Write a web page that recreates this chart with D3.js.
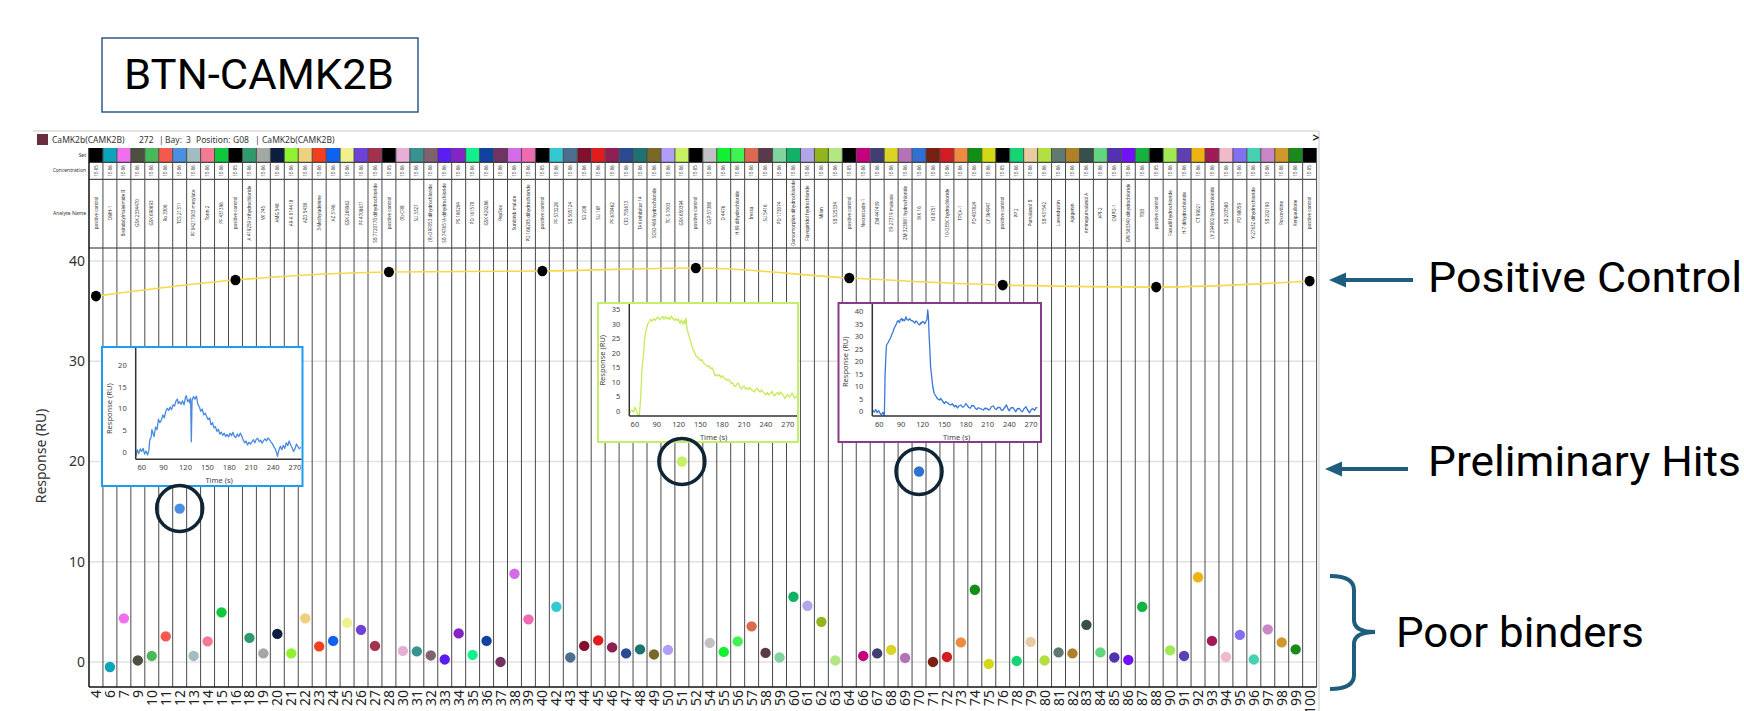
<!DOCTYPE html>
<html>
<head>
<meta charset="utf-8">
<script src="https://cdn.jsdelivr.net/npm/d3@7"></script>
<style>
  html, body { margin: 0; padding: 0; background: #fff; }
  svg { display: block; }
</style>
</head>
<body>
<div id="chart"></div>
<script>
// sample columns (well numbers) along the x axis
const columns = [4, 6, 7, 9, 10, 11, 12, 13, 14, 15,
  16, 18, 19, 20, 21, 22, 23, 24, 25, 26,
  27, 28, 30, 31, 32, 33, 34, 35, 36, 37,
  38, 39, 40, 42, 43, 44, 45, 46, 47, 48,
  49, 50, 51, 52, 54, 55, 56, 57, 58, 59,
  60, 61, 62, 63, 64, 66, 67, 68, 69, 70,
  71, 72, 73, 74, 75, 76, 78, 79, 80, 81,
  82, 83, 84, 85, 86, 87, 88, 90, 91, 92,
  93, 94, 95, 96, 97, 98, 99, 100];

// response (RU) per column
const responses = [36.5, -0.5, 4.35, 0.15, 0.6, 2.55, 15.3, 0.6, 2.05, 4.95,
  38.1, 2.4, 0.85, 2.8, 0.85, 4.35, 1.55, 2.1, 3.9, 3.2,
  1.6, 38.9, 1.1, 1.05, 0.65, 0.25, 2.85, 0.7, 2.1, 0.0,
  8.8, 4.25, 39.0, 5.5, 0.45, 1.6, 2.15, 1.45, 0.85, 1.25,
  0.75, 1.2, 20.0, 39.3, 1.9, 1.0, 2.05, 3.55, 0.9, 0.45,
  6.5, 5.6, 4.0, 0.15, 38.3, 0.6, 0.85, 1.2, 0.4, 19.0,
  0.0, 0.5, 1.95, 7.2, -0.2, 37.6, 0.1, 2.0, 0.15, 0.95,
  0.85, 3.7, 0.95, 0.45, 0.2, 5.5, 37.4, 1.15, 0.6, 8.45,
  2.1, 0.5, 2.7, 0.25, 3.25, 1.95, 1.25, 38.0];

const setColors = ['#000000', '#0aa5b8', '#ef6ff0', '#4d5040', '#48b858', '#f5584d', '#4a8fe2', '#a2bcc2', '#f27a92', '#10c83c',
  '#000000', '#2f9a6e', '#a3a8a2', '#0c1e3e', '#8ef22e', '#efd07e', '#f2401e', '#0f62f0', '#eff08e', '#6e42d6',
  '#a2324e', '#000000', '#e6b0d6', '#389292', '#80626f', '#5c1cf5', '#8424c4', '#12f08e', '#1242a0', '#703464',
  '#d46ce8', '#f06ab2', '#000000', '#34c8d2', '#4e6e90', '#80102e', '#e01c1c', '#8e1f52', '#2a4a92', '#1e7272',
  '#7a6828', '#b09ef8', '#c8f064', '#000000', '#c2c2c2', '#12f030', '#42f252', '#dc6a50', '#5a3a4a', '#80d4a0',
  '#12b266', '#b0a6e8', '#92b41e', '#b2e882', '#000000', '#c4007e', '#403e72', '#dad424', '#b472b8', '#2f70d2',
  '#782012', '#d21e22', '#f08a40', '#128e14', '#d2d814', '#000000', '#14d474', '#eacaa0', '#b2e040', '#607a72',
  '#b08028', '#38504a', '#62d482', '#5232b0', '#7210f8', '#14b23e', '#000000', '#a2e852', '#5e40b0', '#f0b210',
  '#a01a56', '#f0bac8', '#8270f0', '#44d2b0', '#c888c8', '#d09828', '#1a8a1a', '#000000'];

const analyteNames = ['positive control', 'DMH-1', 'Bisindolylmaleimide II', 'GSK 2334470', 'GSK 690693', 'Ro 3306', 'TCS 21311', 'PF 04217903 mesylate', 'Torin 2', 'PF 431396',
  'positive control', 'A 419259 trihydrochloride', 'VX 745', 'AMG 548', 'AR-A 014418', 'AZD 5438', '3-Methyladenine', 'AZ 3146', 'GSK 269962', 'PF 4708671',
  'SB 772077B dihydrochloride', 'positive control', '(R)-CR8', 'SU 3327', '(R)-DRF053 dihydrochloride', 'SB 747651A dihydrochloride', 'PS 180204', 'PD 161570', 'GSK 429286', 'RepSox',
  'Sunitinib malate', 'PD 166285 dihydrochloride', 'positive control', 'PF 573228', 'SB 505124', 'SD 208', 'SU 16f', 'PF 670462', 'CID 755673', 'TAK inhibitor 14',
  'SCIO 469 hydrochloride', 'TC-S 7003', 'GSK 650394', 'positive control', 'CGP 57380', 'D 4476', 'H 89 dihydrochloride', 'Iressa', 'SU 5416', 'PD 173074',
  'Dorsomorphin dihydrochloride', 'Flavopiridol hydrochloride', 'Milan', 'SB 525334', 'positive control', 'Necrostatin-1', 'ZM 447439', 'ER 27319 maleate', 'ZM 323881 hydrochloride', 'IKK 16',
  'KI 8751', '10-DEBC hydrochloride', 'TPCA-1', 'PD 407824', 'LY 364947', 'positive control', 'PP 2', 'Purvalanol B', 'SB 431542', 'Lavendustin',
  'Apigenin', 'Aminopurvalanol A', 'API-2', 'CMPD-1', 'GW 583340 dihydrochloride', 'TBB', 'positive control', 'Fasudil hydrochloride', 'H-7 dihydrochloride', 'CT 99021',
  'LY 294002 hydrochloride', 'SB 203580', 'PD 98059', 'Y-27632 dihydrochloride', 'SB 202190', 'Roscovitine', 'Kenpaullone', 'positive control'];

const hitColumns = [12, 51, 70];
const yTicks = [0, 10, 20, 30, 40];
const timeTicks = [60, 90, 120, 150, 180, 210, 240, 270];

// sensorgrams of the three preliminary hits: [time (s), response (RU)]
const traceWell12 = [[52, -1.0], [54, 0.6], [56, -0.3], [58, 0.8], [60, 0.2], [62, 0.9], [64, -0.4], [66, 0.3], [68, -0.6], [70, 0.5],
  [71, 2.8], [73, 3.5], [74, 5.2], [76, 4.1], [77, 3.6], [79, 5.8], [81, 5.2], [83, 7.6], [85, 6.8], [87, 7.4],
  [89, 8.6], [91, 7.9], [93, 9.4], [95, 10.1], [97, 9.6], [99, 10.4], [101, 9.8], [103, 10.9], [105, 10.6], [107, 11.8],
  [109, 12.2], [110, 11.2], [112, 11.6], [114, 11.0], [116, 11.8], [118, 10.9], [120, 12.6], [121, 13.0], [123, 11.6], [125, 12.1],
  [126, 11.3], [127, 12.4], [128, 2.4], [129, 11.9], [131, 12.8], [133, 12.2], [135, 12.9], [137, 11.0], [139, 10.4], [141, 9.4],
  [143, 9.9], [145, 8.6], [147, 9.0], [149, 8.2], [151, 7.5], [153, 7.9], [155, 6.3], [157, 6.8], [159, 5.6], [161, 5.9],
  [163, 4.8], [165, 5.3], [167, 4.2], [169, 4.6], [171, 3.9], [173, 4.4], [175, 3.6], [177, 4.1], [179, 3.5], [181, 4.4],
  [183, 3.8], [185, 4.6], [187, 3.7], [189, 3.4], [191, 4.2], [193, 3.6], [195, 4.4], [197, 3.8], [199, 2.8], [201, 2.2],
  [203, 2.6], [205, 1.7], [207, 2.3], [209, 1.9], [211, 2.4], [213, 2.9], [215, 2.2], [217, 3.0], [219, 3.2], [221, 2.4],
  [223, 2.8], [225, 2.1], [227, 2.7], [229, 3.1], [231, 2.6], [233, 3.3], [235, 2.9], [237, 2.4], [239, 2.0], [241, 1.3],
  [243, 0.8], [245, -0.2], [246, -0.9], [248, 0.5], [250, 1.4], [252, 0.6], [254, 1.6], [256, 0.9], [258, 2.2], [260, 1.5],
  [262, 2.6], [264, 1.7], [266, 1.1], [268, 0.2], [270, 0.8], [272, 1.9], [274, 1.3], [276, 0.8], [278, 1.2]];

const traceWell51 = [[52, -0.8], [54, -0.2], [56, 0.3], [58, -0.4], [60, 1.3], [62, 0.2], [64, -1.2], [66, -1.6], [67, 1.5], [68, 5.0],
  [69, 10.5], [70, 15.5], [72, 19.5], [73, 24.0], [74, 26.0], [76, 28.5], [78, 30.2], [80, 30.8], [82, 31.6], [84, 30.9],
  [86, 31.8], [88, 31.2], [90, 32.0], [92, 32.3], [94, 31.4], [96, 31.9], [98, 32.6], [100, 31.6], [102, 32.5], [104, 31.7],
  [106, 32.2], [108, 31.5], [110, 32.7], [112, 31.8], [114, 31.2], [116, 31.9], [118, 31.1], [120, 31.7], [122, 30.2], [124, 31.4],
  [126, 29.9], [128, 31.2], [129, 30.0], [130, 32.0], [131, 29.5], [132, 27.9], [134, 26.0], [136, 24.5], [138, 22.6], [140, 21.0],
  [142, 20.2], [144, 18.9], [146, 18.6], [148, 18.0], [150, 17.4], [152, 17.7], [154, 16.6], [156, 16.2], [158, 15.8], [160, 15.2],
  [162, 15.6], [164, 14.6], [166, 14.9], [168, 13.8], [170, 12.2], [172, 12.6], [174, 12.0], [176, 12.6], [178, 11.6], [180, 12.2],
  [182, 11.4], [184, 11.2], [186, 10.6], [188, 10.9], [190, 10.5], [192, 9.5], [194, 9.8], [196, 8.7], [198, 8.4], [200, 9.3],
  [202, 9.6], [204, 8.4], [206, 7.6], [208, 8.3], [210, 8.6], [212, 7.5], [214, 8.0], [216, 7.4], [218, 8.1], [220, 7.3],
  [222, 7.0], [224, 6.6], [226, 7.4], [228, 7.9], [230, 7.0], [232, 6.5], [234, 7.3], [236, 6.6], [238, 6.0], [240, 5.6],
  [242, 6.4], [244, 5.5], [246, 6.1], [248, 6.8], [250, 5.8], [252, 5.2], [254, 6.0], [256, 6.4], [258, 5.6], [260, 6.6],
  [262, 5.9], [264, 5.4], [266, 4.3], [268, 5.1], [270, 5.7], [272, 4.8], [274, 5.4], [276, 6.2], [278, 5.0], [280, 4.4], [282, 5.2]];

const traceWell70 = [[51, 0.7], [53, -0.2], [55, 0.9], [57, -0.4], [59, 0.5], [61, -0.6], [63, -1.3], [65, -0.2], [67, -1.7], [68, 14.5],
  [69, 22.0], [70, 26.7], [72, 27.6], [74, 28.7], [76, 29.8], [77, 30.7], [79, 32.0], [80, 33.0], [82, 34.2], [84, 35.3],
  [85, 36.2], [86, 36.4], [88, 35.7], [89, 36.8], [91, 37.3], [92, 36.3], [93, 36.9], [95, 36.4], [97, 38.0], [98, 37.0],
  [100, 36.6], [102, 37.2], [104, 36.5], [106, 36.4], [108, 35.9], [109, 35.5], [111, 36.3], [112, 36.0], [114, 35.1], [116, 34.7],
  [117, 35.6], [118, 35.3], [120, 36.1], [121, 36.0], [123, 35.2], [125, 36.4], [126, 37.0], [127, 40.7], [128, 38.0], [129, 30.0],
  [130, 24.7], [131, 18.0], [133, 12.7], [134, 10.0], [136, 7.3], [138, 6.4], [139, 5.9], [141, 5.1], [143, 4.7], [145, 5.3],
  [147, 4.5], [149, 3.7], [150, 3.3], [152, 4.0], [155, 3.5], [157, 2.9], [159, 2.7], [161, 3.2], [164, 2.0], [166, 2.6],
  [168, 1.5], [170, 2.3], [173, 2.7], [175, 1.8], [177, 2.0], [180, 3.3], [182, 2.4], [184, 1.7], [186, 1.4], [188, 2.5],
  [191, 2.3], [193, 1.3], [195, 0.9], [197, 1.6], [200, 1.3], [202, 0.9], [204, 0.7], [206, 1.4], [209, 1.3], [211, 0.8],
  [213, 0.9], [215, 2.0], [218, 2.3], [220, 1.2], [222, 0.9], [224, 1.7], [227, 1.7], [229, 0.6], [231, 0.7], [234, 1.9],
  [236, 2.7], [238, 1.2], [240, 0.4], [242, 1.5], [245, 1.7], [247, 0.8], [249, 0.0], [251, 1.2], [254, 1.3], [256, 0.4],
  [258, 0.0], [260, 1.1], [263, 2.0], [265, 0.8], [268, -0.4], [270, 0.7], [272, 1.3], [275, 0.6], [277, 1.7], [279, 1.5]];

const W = 1744, H = 711;
const FONT = '"Noto Sans", "Open Sans", sans-serif';
const ACCENT = '#1f5d7e';

const svg = d3.select('#chart').append('svg')
  .attr('width', W)
  .attr('height', H)
  .style('font-family', FONT);

const plot = {left: 89, right: 1316.6, top: 248, bottom: 687, tableTop: 148};
const x = d3.scaleBand().domain(columns).range([plot.left, plot.right]);
const bw = x.bandwidth();
const cx = c => x(c) + bw / 2;
const y = d3.scaleLinear().domain([-2.5, 41.3]).range([plot.bottom, plot.top]);
const isControl = i => analyteNames[i] === 'positive control';

// ---- title box
svg.append('rect')
  .attr('x', 102).attr('y', 38).attr('width', 316).attr('height', 74)
  .attr('fill', 'none').attr('stroke', '#2f5b8c').attr('stroke-width', 1.5);
svg.append('text')
  .attr('x', 124).attr('y', 89)
  .attr('textLength', 270).attr('lengthAdjust', 'spacingAndGlyphs')
  .style('font-family', 'Roboto, sans-serif').style('font-size', '42px').attr('fill', '#000')
  .text('BTN-CAMK2B');

// ---- panel header
svg.append('line').attr('x1', 33).attr('x2', 1319).attr('y1', 131).attr('y2', 131)
  .attr('stroke', '#c8c8c8').attr('stroke-width', 1);
svg.append('line').attr('x1', 1319).attr('x2', 1319).attr('y1', 131).attr('y2', H)
  .attr('stroke', '#c8c8c8').attr('stroke-width', 1);
svg.append('rect').attr('x', 37).attr('y', 134).attr('width', 11).attr('height', 11).attr('fill', '#6b2d3d');
const header = svg.append('text').attr('y', 143).style('font-size', '8.5px').attr('fill', '#333');
[['CaMK2b(CAMK2B)', 52], ['272', 139], ['|', 159], ['Bay:', 165], ['3', 186], ['Position:', 196],
 ['G08', 233], ['|', 255], ['CaMK2b(CAMK2B)', 262]].forEach(([t, px]) => {
  header.append('tspan').attr('x', px).text(t);
});
svg.append('text').attr('x', 1316).attr('y', 142).attr('text-anchor', 'middle')
  .style('font-size', '12px').style('font-weight', 'bold').attr('fill', '#222').text('>');

// ---- header table (set colour, concentration, analyte name)
svg.append('g').selectAll('rect')
  .data(columns)
  .join('rect')
  .attr('x', c => x(c)).attr('y', plot.tableTop)
  .attr('width', bw).attr('height', 14.3)
  .attr('fill', (c, i) => setColors[i]);

[162.3, 179.3, plot.top].forEach(ly => {
  svg.append('line').attr('x1', plot.left).attr('x2', plot.right).attr('y1', ly).attr('y2', ly)
    .attr('stroke', '#222').attr('stroke-width', 1);
});

[['Set', 157], ['Concentration', 172], ['Analyte Name', 215]].forEach(([t, ly]) => {
  svg.append('text').attr('x', 86).attr('y', ly).attr('text-anchor', 'end')
    .style('font-size', '5px').attr('fill', '#333').text(t);
});

svg.append('g').selectAll('text')
  .data(columns)
  .join('text')
  .attr('transform', c => `translate(${cx(c)},171) rotate(-90)`)
  .attr('text-anchor', 'middle').attr('dy', '0.35em')
  .style('font-size', '4.5px').attr('fill', '#333')
  .text((c, i) => isControl(i) ? '1E-05' : '1E-06');

svg.append('g').selectAll('text')
  .data(columns)
  .join('text')
  .attr('transform', c => `translate(${cx(c)},213) rotate(-90)`)
  .attr('text-anchor', 'middle').attr('dy', '0.35em')
  .style('font-size', '4.5px').attr('fill', '#333')
  .text((c, i) => analyteNames[i]);

// ---- grid and column separators
svg.append('g').selectAll('line')
  .data(yTicks)
  .join('line')
  .attr('x1', plot.left).attr('x2', plot.right)
  .attr('y1', d => y(d)).attr('y2', d => y(d))
  .attr('stroke', '#e2e2e2').attr('stroke-width', 1.5);

svg.append('g').selectAll('line')
  .data(columns.slice(1).map(c => x(c)).concat([plot.right]))
  .join('line')
  .attr('x1', d => d).attr('x2', d => d)
  .attr('y1', plot.tableTop).attr('y2', plot.bottom)
  .attr('stroke', '#4a4a4a').attr('stroke-width', 1);

svg.append('line').attr('x1', plot.left).attr('x2', plot.left)
  .attr('y1', plot.tableTop).attr('y2', plot.bottom)
  .attr('stroke', '#111').attr('stroke-width', 1.5);
svg.append('line').attr('x1', plot.left).attr('x2', plot.right)
  .attr('y1', plot.bottom).attr('y2', plot.bottom)
  .attr('stroke', '#111').attr('stroke-width', 1.5);

// ---- axes labels
const yAxis = svg.append('g')
  .attr('transform', `translate(${plot.left},0)`)
  .call(d3.axisLeft(y).tickValues(yTicks).tickSize(0).tickPadding(4));
yAxis.select('.domain').remove();
yAxis.selectAll('text').style('font-size', '14px').style('font-family', FONT).attr('fill', '#333');

const xAxis = svg.append('g')
  .attr('transform', `translate(0,${plot.bottom})`)
  .call(d3.axisBottom(x).tickSize(0));
xAxis.select('.domain').remove();
xAxis.selectAll('text')
  .attr('transform', 'rotate(-90)')
  .attr('text-anchor', 'end')
  .attr('x', -3).attr('y', 0).attr('dy', '0.36em')
  .style('font-size', '14px').style('font-family', FONT).attr('fill', '#222');

svg.append('text')
  .attr('transform', 'translate(46,456) rotate(-90)')
  .attr('text-anchor', 'middle')
  .style('font-size', '14px').attr('fill', '#333')
  .text('Response (RU)');

// ---- positive control trend
const controlIdx = columns.map((c, i) => i).filter(isControl);
svg.append('path')
  .datum(controlIdx)
  .attr('d', d3.line().x(i => cx(columns[i])).y(i => y(responses[i])).curve(d3.curveMonotoneX))
  .attr('fill', 'none').attr('stroke', '#f7d84a').attr('stroke-width', 1.6);

// ---- dots
svg.append('g').selectAll('circle')
  .data(columns.map((c, i) => i).filter(i => !isControl(i)))
  .join('circle')
  .attr('cx', i => cx(columns[i]))
  .attr('cy', i => y(responses[i]))
  .attr('r', 5.2)
  .attr('fill', i => setColors[i]);

svg.append('g').selectAll('ellipse')
  .data(controlIdx)
  .join('ellipse')
  .attr('cx', i => cx(columns[i]))
  .attr('cy', i => y(responses[i]))
  .attr('rx', 5).attr('ry', 5.3)
  .attr('fill', '#000');

// ---- inset sensorgrams
function drawInset(cfg, trace, yTickVals) {
  const g = svg.append('g');
  const [bx0, by0, bx1, by1] = cfg.box;
  g.append('rect')
    .attr('x', bx0).attr('y', by0).attr('width', bx1 - bx0).attr('height', by1 - by0)
    .attr('fill', '#fff').attr('stroke', cfg.border).attr('stroke-width', 2);

  const ix = d3.scaleLinear().domain(cfg.tDomain).range([cfg.axisX, bx1]);
  const iy = d3.scaleLinear().domain(cfg.vDomain).range([cfg.axisY, by0]);

  const clipId = 'clip-' + cfg.id;
  g.append('clipPath').attr('id', clipId)
    .append('rect').attr('x', cfg.axisX).attr('y', by0 + 1)
    .attr('width', bx1 - cfg.axisX - 1).attr('height', cfg.axisY - by0 - 1);

  g.append('path')
    .datum(trace)
    .attr('clip-path', `url(#${clipId})`)
    .attr('d', d3.line().x(d => ix(d[0])).y(d => iy(d[1])))
    .attr('fill', 'none').attr('stroke', cfg.lineColor).attr('stroke-width', 1.3)
    .attr('stroke-linejoin', 'round');

  g.append('line').attr('x1', cfg.axisX).attr('x2', cfg.axisX).attr('y1', by0 + 1).attr('y2', cfg.axisY)
    .attr('stroke', '#333').attr('stroke-width', 1.5);
  g.append('line').attr('x1', cfg.axisX).attr('x2', bx1 - 1).attr('y1', cfg.axisY).attr('y2', cfg.axisY)
    .attr('stroke', '#333').attr('stroke-width', 1.5);

  g.selectAll('.yt').data(yTickVals).join('text')
    .attr('class', 'yt')
    .attr('x', cfg.axisX - 9).attr('y', d => iy(d)).attr('dy', '0.35em')
    .attr('text-anchor', 'end').style('font-size', '7.5px').attr('fill', '#444')
    .text(d => d);
  g.selectAll('.xt').data(timeTicks).join('text')
    .attr('class', 'xt')
    .attr('x', d => ix(d)).attr('y', cfg.axisY + 11)
    .attr('text-anchor', 'middle').style('font-size', '7.5px').attr('fill', '#444')
    .text(d => d);

  g.append('text')
    .attr('x', (cfg.axisX + bx1) / 2).attr('y', cfg.axisY + 23.5)
    .attr('text-anchor', 'middle').style('font-size', '7.5px').attr('fill', '#444')
    .text('Time (s)');
  const midY = (iy(0) + iy(yTickVals[yTickVals.length - 1])) / 2;
  g.append('text')
    .attr('transform', `translate(${cfg.axisX - 24},${midY}) rotate(-90)`)
    .attr('text-anchor', 'middle').style('font-size', '7.5px').attr('fill', '#444')
    .text('Response (RU)');
}

drawInset({id: 'w12', box: [102, 347, 302.5, 486], axisX: 135.7, axisY: 459.3,
  tDomain: [51.8, 280.3], vDomain: [-1.6, 24.15], border: '#1e9cf0', lineColor: '#4a8ae0'},
  traceWell12, [0, 5, 10, 15, 20]);
drawInset({id: 'w51', box: [598, 303, 798, 442], axisX: 629.3, axisY: 416,
  tDomain: [52.3, 284], vDomain: [-1.7, 37.2], border: '#c6ee6a', lineColor: '#c6ea5a'},
  traceWell51, [0, 5, 10, 15, 20, 25, 30, 35]);
drawInset({id: 'w70', box: [838.5, 303, 1041, 442], axisX: 872.3, axisY: 416,
  tDomain: [50.3, 283.8], vDomain: [-1.7, 43.5], border: '#8a3a8a', lineColor: '#3a78d8'},
  traceWell70, [0, 5, 10, 15, 20, 25, 30, 35, 40]);

// ---- circles round the preliminary hits
svg.append('g').selectAll('circle')
  .data(hitColumns)
  .join('circle')
  .attr('cx', c => cx(c))
  .attr('cy', c => y(responses[columns.indexOf(c)]))
  .attr('r', 23)
  .attr('fill', 'none').attr('stroke', '#0f2535').attr('stroke-width', 3.5);

// ---- annotations on the right
function arrow(tipX, yy, endX) {
  svg.append('line').attr('x1', tipX + 12).attr('x2', endX).attr('y1', yy).attr('y2', yy)
    .attr('stroke', ACCENT).attr('stroke-width', 3.8);
  svg.append('path')
    .attr('d', `M${tipX},${yy} L${tipX + 17},${yy - 7.5} L${tipX + 17},${yy + 7.5} Z`)
    .attr('fill', ACCENT);
}
function note(label, tx, ty, len) {
  svg.append('text').attr('x', tx).attr('y', ty)
    .attr('textLength', len).attr('lengthAdjust', 'spacingAndGlyphs')
    .style('font-family', 'Roboto, sans-serif').style('font-size', '43px').attr('fill', '#000')
    .text(label);
}
arrow(1329, 280, 1413);
note('Positive Control', 1428, 292, 314);
arrow(1325, 469, 1408);
note('Preliminary Hits', 1428, 476, 313);

svg.append('path')
  .attr('d', 'M1330,576 Q1354,576 1354,590 L1354,620 Q1354,632 1375,632 Q1354,632 1354,644 L1354,675 Q1354,689 1330,689')
  .attr('fill', 'none').attr('stroke', ACCENT).attr('stroke-width', 4);
note('Poor binders', 1396, 647, 248);
</script>
</body>
</html>
